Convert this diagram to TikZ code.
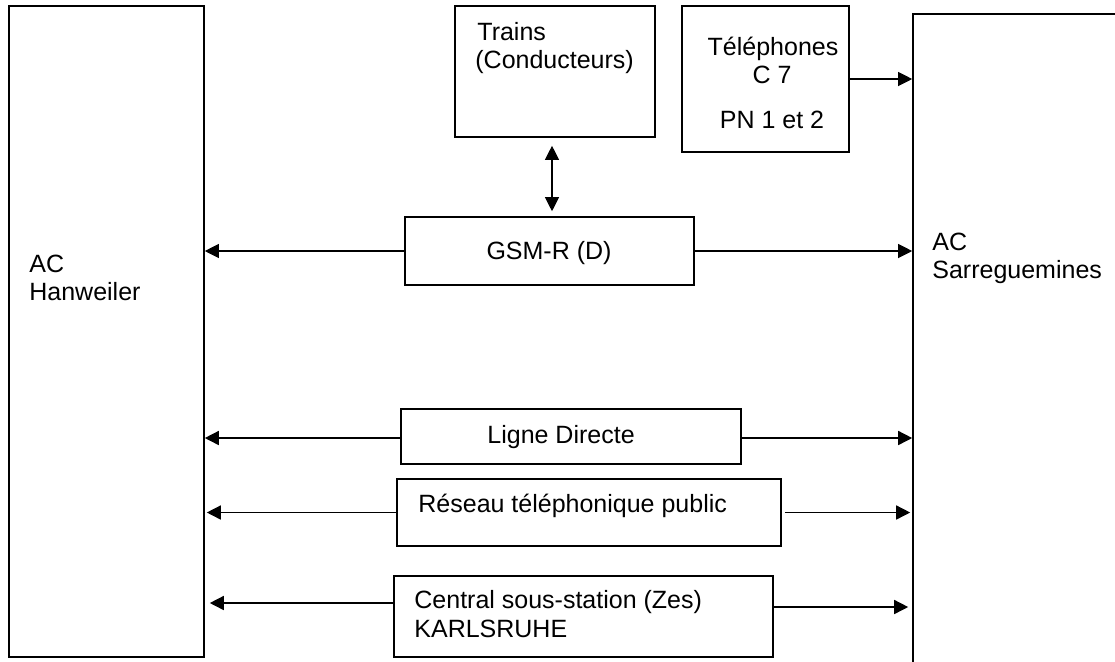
\documentclass[tikz,border=0pt]{standalone}
\usepackage{fontspec}
\setmainfont{Liberation Sans}
\usetikzlibrary{arrows.meta,fit}
\begin{document}
\begin{tikzpicture}[x=0.5pt,y=-0.5pt,
  box/.style={draw, line width=0.8pt, inner sep=0pt},
  lbl/.style={inner sep=0pt, font=\fontsize{12.5}{14}\selectfont},
  arr/.style={line width=0.55pt, -{Triangle[length=7pt,width=7pt]}},
  arrb/.style={line width=0.75pt, -{Triangle[length=7pt,width=7pt]}},
  darr/.style={line width=0.55pt, {Triangle[length=7pt,width=7pt]}-{Triangle[length=7pt,width=7pt]}}]
\useasboundingbox (0,0) rectangle (1115,661);
\fill[white] (0,0) rectangle (1115,661);
% boxes
\node[box, fit={(9,6) (204,657)}] (han) {};
\node[box, fit={(913,14) (1150,690)}] (sar) {};
\node[box, fit={(455,6) (655,137)}] (trains) {};
\node[box, fit={(682,6) (849,152)}] (tel) {};
\node[box, fit={(405,217) (694,285)}] (gsm) {};
\node[box, fit={(401,409) (741,464)}] (ligne) {};
\node[box, fit={(397,479) (781,546)}] (reseau) {};
\node[box, fit={(394,576) (773,657)}] (central) {};
% texts
\node[lbl, anchor=base west] (t1) at (29,272) {AC};
\node[lbl, anchor=base west] (t2) at (29,300) {Hanweiler};
\node[lbl, anchor=base west] (t3) at (932,250) {AC};
\node[lbl, anchor=base west] (t4) at (932,278) {Sarreguemines};
\node[lbl, anchor=base west] (t5) at (477,40) {Trains};
\node[lbl, anchor=base west] (t6) at (475,68) {(Conducteurs)};
\node[lbl, anchor=base] (t7) at (773,55) {Téléphones};
\node[lbl, anchor=base] (t8) at (772,83) {C 7};
\node[lbl, anchor=base] (t9) at (772,128) {PN 1 et 2};
\node[lbl, anchor=base] (t10) at (549,259) {GSM-R (D)};
\node[lbl, anchor=base west] (t11) at (487,443) {Ligne Directe};
\node[lbl, anchor=base west] (t12) at (418,512) {Réseau téléphonique public};
\node[lbl, anchor=base west] (t13) at (414,608) {Central sous-station (Zes)};
\node[lbl, anchor=base west] (t14) at (414,637) {KARLSRUHE};
% connectors
\draw[darr, shorten <=4pt, shorten >=2.5pt] ([xshift=-1.5pt]trains.south) -- ([xshift=-1.5pt]trains.south |- gsm.north);
\draw[arr] (tel.east) -- (tel.east -| sar.west);
\draw[arr] (gsm.west) -- (gsm.west -| han.east);
\draw[arr] (gsm.east) -- (gsm.east -| sar.west);
\draw[arrb] ([yshift=-0.75pt]ligne.west) -- ([yshift=-0.75pt]ligne.west -| han.east);
\draw[arrb] ([yshift=-0.75pt]ligne.east) -- ([yshift=-0.75pt]ligne.east -| sar.west);
\draw[arrb] (reseau.west) -- ([xshift=1pt]reseau.west -| han.east);
\draw[arrb] ([xshift=1.5pt]reseau.east) -- ([xshift=-1pt]reseau.east -| sar.west);
\draw[arrb] ([yshift=6.75pt]central.west) -- ([xshift=2.5pt,yshift=6.75pt]central.west -| han.east);
\draw[arrb] ([yshift=4.75pt]central.east) -- ([xshift=-2pt,yshift=4.75pt]central.east -| sar.west);
\end{tikzpicture}
\end{document}
